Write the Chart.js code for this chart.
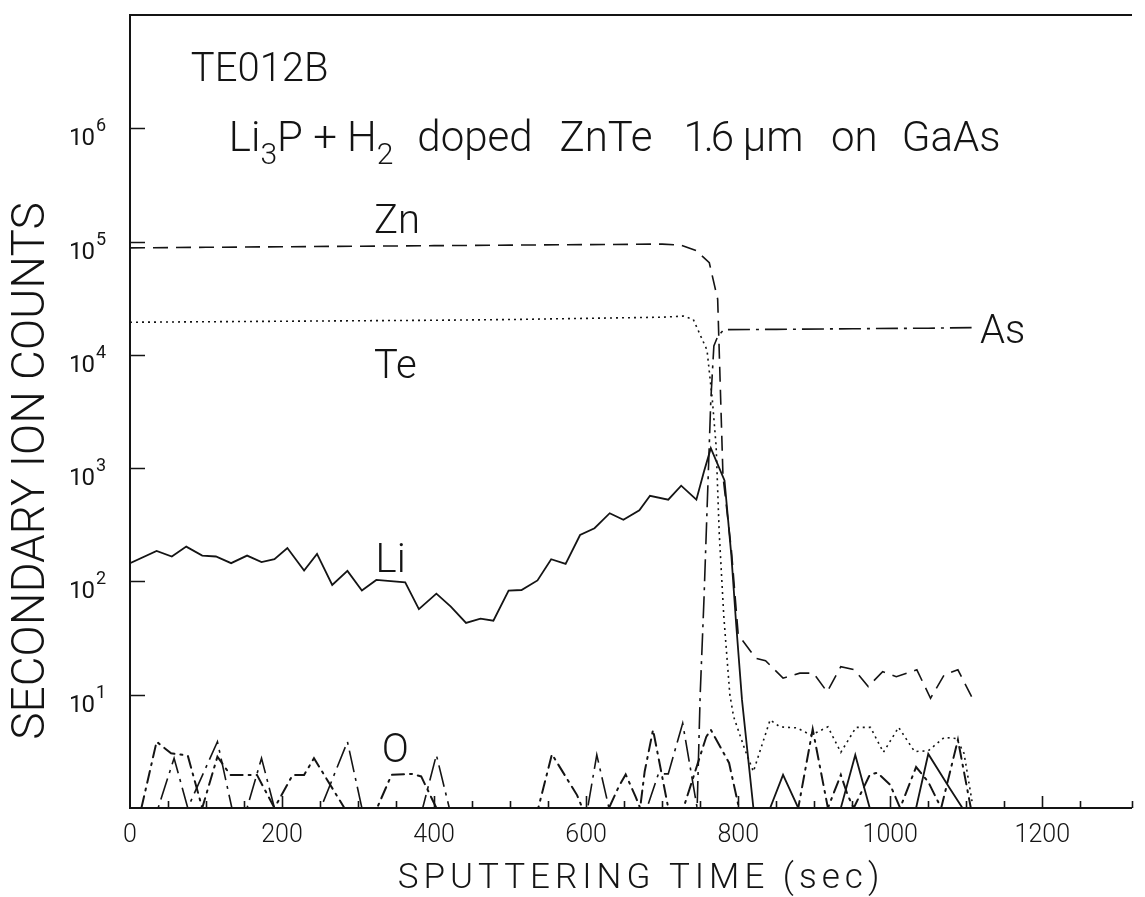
<!DOCTYPE html>
<html>
<head>
<meta charset="utf-8">
<title>SIMS depth profile TE012B</title>
<script src="https://cdn.jsdelivr.net/npm/chart.js@4.4.0/dist/chart.umd.min.js"></script>
<style>
  html, body { margin: 0; padding: 0; background: #fff; }
</style>
</head>
<body>
<canvas id="profile" width="1145" height="897"></canvas>
<script>
// sputtering time (sec) and secondary ion counts for each species
const liTime = [0,35,55,74,95,113,133,154,173,190,207,229,246,266,286,305,324,362,380,403,422,442,461,478,498,515,536,554,573,592,611,631,649,670,684,708,725,745,755,764,782,791,797,805,820,842,859,879,935,954,973,1034,1050,1078,1095];
const liCounts = [145,186,166,203,169,166,145,169,148,157,197,125,175,93,124,83,103,98,57,78,60,43,47,45,83,84,102,157,143,257,295,400,350,424,570,527,700,527,935,1500,780,170,45,9,1,1,1.96,1,1,2.94,1,1,3.0,1.5,1];

const znTime = [0,100,200,300,400,500,600,700,725,745,762,773,780,791,800,823,836,859,881,899,917,935,953,971,990,1008,1035,1053,1071,1089,1107];
const znCounts = [8.8e4,8.9e4,9.0e4,9.1e4,9.2e4,9.3e4,9.4e4,9.5e4,9.3e4,8.3e4,6.5e4,3.1e4,850,190,34,21,20,14,15.5,15.5,10.6,17.7,16.6,11.8,16,14.4,16.6,9.3,15,16.6,9.6];

const teTime = [0,100,200,300,400,500,600,700,728,741,759,766,771,775,781,789,794,809,820,842,855,877,896,918,935,955,974,991,1011,1032,1050,1071,1087,1097,1108];
const teCounts = [1.94e4,1.96e4,1.98e4,2.0e4,2.02e4,2.05e4,2.1e4,2.15e4,2.2e4,2.05e4,1.1e4,4000,1560,270,50,10,6.4,3.25,2.1,6,5.2,5.1,4.4,5.2,3.1,5.15,5.15,3.1,5.15,3.15,3.2,4.2,4.1,3.05,1.1];

const asTime = [0,37,58,76,115,134,154,173,190,251,286,305,385,403,420,602,614,630,680,695,708,727,746,750,755,764,768,773,781,850,950,1050,1107];
const asCounts = [1,1,2.75,1,3.85,1,1,2.75,1,1,3.85,1,1,2.94,1,1,2.94,1,1,2.0,2.0,5.6,1,10,70,4000,1.2e4,1.45e4,1.67e4,1.68e4,1.7e4,1.72e4,1.74e4];

const oTime = [15,35,54,76,95,115,132,167,190,214,229,242,282,325,344,370,383,403,537,555,588,595,630,643,652,665,671,677,688,699,708,728,758,764,788,801,879,898,918,935,944,952,973,983,1000,1013,1034,1050,1067,1089,1106];
const oCounts = [1,3.85,3.04,2.9,1,2.84,1.96,1.96,1,1.96,1.96,2.75,1,1,1.96,2.0,1.9,1,1,2.98,1.3,1,1,1.55,1.98,1.26,1,2.1,4.9,2.05,1,1,4.25,4.9,2.5,1,1,4.96,1,1.96,1.3,1,1.96,2.05,1.6,1,2.3,1.7,1,4.0,1];

// axis ticks
const decades = [1, 2, 3, 4, 5, 6];
const timeLabelStep = 200;
const timeTickStep = 50;

// species labels: text, time, counts at the text baseline
const speciesNames = ['Zn', 'Te', 'Li', 'O', 'As'];
const speciesTime = [321, 321, 323, 331, 1118];
const speciesCounts = [1.2e5, 6300, 122, 2.56, 1.28e4];

const ink = '#141414';
const family = "Roboto, 'DejaVu Sans', sans-serif";

function series(t, v) {
  return t.map((x, i) => ({ x: x, y: v[i] }));
}

function drawPieces(ctx, pieces, x, y, size) {
  let cx = x;
  pieces.forEach(([txt, sub]) => {
    ctx.font = `300 ${sub ? Math.round(size * 0.72) : size}px ${family}`;
    ctx.fillText(txt, cx, sub ? y + size * 0.3 : y);
    cx += ctx.measureText(txt).width;
  });
}

const decorations = {
  id: 'decorations',
  afterDraw(chart) {
    const { ctx, chartArea: a, scales: { x, y } } = chart;
    ctx.save();
    ctx.strokeStyle = ink;
    ctx.fillStyle = ink;

    // frame
    ctx.lineWidth = 2;
    ctx.beginPath();
    ctx.moveTo(a.right, a.top);
    ctx.lineTo(a.left, a.top);
    ctx.lineTo(a.left, a.bottom);
    ctx.lineTo(a.right, a.bottom);
    ctx.stroke();

    // tick marks pointing into the plot
    ctx.lineWidth = 1.6;
    ctx.beginPath();
    x.ticks.forEach(t => {
      if (t.value <= 0) return;
      const px = Math.round(x.getPixelForValue(t.value)) + 0.5;
      const len = t.value % timeLabelStep === 0 ? 12 : 7;
      ctx.moveTo(px, a.bottom);
      ctx.lineTo(px, a.bottom - len);
    });
    decades.forEach(e => {
      const py = Math.round(y.getPixelForValue(Math.pow(10, e))) + 0.5;
      ctx.moveTo(a.left, py);
      ctx.lineTo(a.left + 15, py);
    });
    ctx.stroke();

    // count tick labels 10^n
    ctx.textAlign = 'left';
    ctx.textBaseline = 'alphabetic';
    decades.forEach(e => {
      const py = y.getPixelForValue(Math.pow(10, e));
      ctx.font = `400 24px ${family}`;
      ctx.letterSpacing = '-1px';
      ctx.fillText('10', 69, py + 17);
      const w = ctx.measureText('10').width;
      ctx.font = `400 18px ${family}`;
      ctx.letterSpacing = '0px';
      ctx.fillText(String(e), 69 + w + 2, py + 3);
    });

    // sample name and layer description
    ctx.font = `300 40px ${family}`;
    ctx.fillText('TE012B', x.getPixelForValue(80), y.getPixelForValue(2.59e6));
    const ty = y.getPixelForValue(6.27e5);
    drawPieces(ctx, [['Li', 0], ['3', 1], ['P + H', 0], ['2', 1]], x.getPixelForValue(130), ty, 42);
    ctx.font = `300 42px ${family}`;
    ctx.fillText('doped', x.getPixelForValue(378), ty);
    ctx.fillText('ZnTe', x.getPixelForValue(565), ty);
    ctx.letterSpacing = '-3px';
    ctx.fillText('1.6', x.getPixelForValue(728), ty);
    ctx.letterSpacing = '0px';
    ctx.fillText('µm', x.getPixelForValue(806), ty);
    ctx.fillText('on', x.getPixelForValue(922), ty);
    ctx.fillText('GaAs', x.getPixelForValue(1015), ty);

    // species labels
    ctx.font = `300 40px ${family}`;
    speciesNames.forEach((n, i) => {
      ctx.fillText(n, x.getPixelForValue(speciesTime[i]), y.getPixelForValue(speciesCounts[i]));
    });

    // axis titles
    ctx.textAlign = 'center';
    ctx.font = `300 35px ${family}`;
    ctx.letterSpacing = '5px';
    ctx.fillText('SPUTTERING TIME (sec)', (a.left + a.right) / 2 + 10, 888);
    ctx.save();
    ctx.translate(44, a.top + (a.bottom - a.top) * 0.575);
    ctx.rotate(-Math.PI / 2);
    ctx.font = `300 46px ${family}`;
    ctx.letterSpacing = '0px';
    ctx.fillText('SECONDARY ION COUNTS', 0, 0);
    ctx.restore();

    ctx.restore();
  }
};

const line = { showLine: true, pointRadius: 0, borderColor: ink, borderWidth: 1.6, tension: 0, fill: false };

new Chart(document.getElementById('profile'), {
  type: 'scatter',
  data: {
    datasets: [
      Object.assign({ label: 'Zn', data: series(znTime, znCounts), borderDash: [15, 8] }, line),
      Object.assign({ label: 'Te', data: series(teTime, teCounts), borderDash: [2, 4] }, line),
      Object.assign({ label: 'Li', data: series(liTime, liCounts) }, line, { borderWidth: 1.8 }),
      Object.assign({ label: 'As', data: series(asTime, asCounts), borderDash: [22, 6, 3, 6] }, line),
      Object.assign({ label: 'O', data: series(oTime, oCounts), borderDash: [12, 6, 2, 6] }, line, { borderWidth: 2, borderCapStyle: 'round' })
    ]
  },
  options: {
    responsive: false,
    devicePixelRatio: 1,
    animation: false,
    layout: { padding: { top: 15, left: 0, right: 0, bottom: 0 } },
    plugins: { legend: { display: false }, tooltip: { enabled: false } },
    scales: {
      x: {
        type: 'linear',
        min: 0,
        max: 1318,
        afterFit: s => { s.height = 89; },
        grid: { display: false, drawTicks: false },
        border: { display: false },
        ticks: {
          stepSize: timeTickStep,
          autoSkip: false,
          maxRotation: 0,
          padding: 13,
          color: ink,
          font: { family: family, size: 25, weight: 300 },
          callback: v => (v % timeLabelStep === 0 ? String(v) : '')
        }
      },
      y: {
        type: 'logarithmic',
        min: 1,
        max: 1e7,
        afterFit: s => { s.width = 130; },
        afterBuildTicks: s => { s.ticks = decades.map(e => ({ value: Math.pow(10, e) })); },
        grid: { display: false, drawTicks: false },
        border: { display: false },
        ticks: { display: false }
      }
    }
  },
  plugins: [decorations]
});
</script>
</body>
</html>
